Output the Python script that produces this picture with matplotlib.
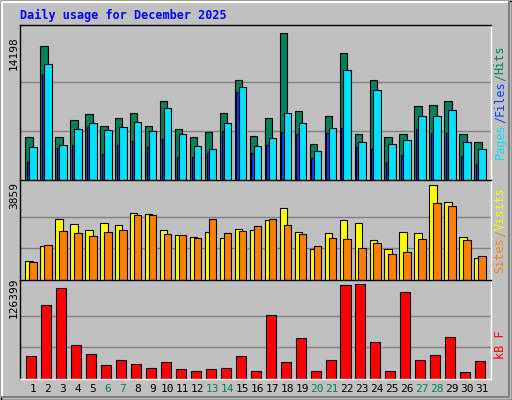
import matplotlib
matplotlib.use("Agg")
import matplotlib.pyplot as plt
import numpy as np

days = list(range(1, 32))
weekend = [6, 7, 13, 14, 20, 21, 27, 28]
hits = [4176,12945,4176,5814,6392,5236,6006,6488,5236,7645,4946,4176,4657,6488,9668,4272,6006,14198,6681,3501,6199,12270,4465,9668,4176,4465,7163,7259,7645,4465,3694]
pages = [3212,11210,3405,4946,5525,4850,5139,5621,4754,6970,4465,3308,3019,5525,8994,3308,4079,6488,5525,2827,5043,10632,3694,8705,3501,3887,6199,6199,6777,3694,3019]
files = [1767,10182,3051,3405,5139,2537,3405,3790,3212,3983,2248,2248,2634,4754,8512,2634,3405,4657,4465,2152,4561,5043,3212,3019,1767,2441,4946,4561,4561,2345,1574]
visits = [766,1393,2480,2271,2020,2312,2229,2730,2688,2020,1811,1727,1936,1686,2062,2020,2438,2939,1936,1268,1894,2438,2312,1602,1268,1936,1894,3859,3148,1727,892]
sites = [724,1435,1978,1894,1769,1936,2020,2647,2619,1853,1811,1686,2480,1894,1978,2187,2480,2229,1853,1393,1686,1644,1309,1518,1059,1142,1644,3106,2981,1602,975]
kb_px = [65,214,262,97,73,40,55,43,31,49,28,22,28,31,67,22,184,49,118,22,55,271,274,106,22,250,55,70,121,19,52]
kbytes = [round(v * 126399 / 274) for v in kb_px]

W, H = 512, 400
fig = plt.figure(figsize=(W/100, H/100), dpi=100)
fig.patch.set_facecolor("#C0C0C0")
mono = "DejaVu Sans Mono"

def ax_at(x0, y0, x1, y1):
    return fig.add_axes([x0/W, 1 - y1/H, (x1-x0)/W, (y1-y0)/H])

x = np.array(days, dtype=float)
XL = (0.13, 31.61)

def style(ax, ymax, frac_top):
    ax.set_facecolor("#C0C0C0")
    ax.set_xlim(*XL)
    ax.set_ylim(0, ymax * frac_top)
    ax.set_xticks([]); ax.set_yticks([])
    for y in (ymax/3, 2*ymax/3):
        ax.axhline(y, color="#808080", lw=1, zorder=0)
    for s in ax.spines.values():
        s.set_color("black"); s.set_linewidth(1)
    ax.spines["bottom"].set_color("white")
    ax.spines["right"].set_color("white")

def bar(ax, vals, l, r, c, z):
    ax.bar(x + (l + r)/2, vals, width=r - l, color=c, edgecolor="black", linewidth=0.8, zorder=z)

ax1 = ax_at(20, 25, 491, 180)
style(ax1, 14198, 155/147.4)
bar(ax1, hits, -0.51, -0.02, "#00805C", 2)
bar(ax1, files, -0.40, -0.25, "#0040FF", 3)
bar(ax1, pages, -0.25, 0.25, "#00E0FF", 4)

ax2 = ax_at(20, 180, 491, 280)
style(ax2, 3859, 97/92.3)
bar(ax2, visits, -0.51, -0.02, "#FFFF00", 2)
bar(ax2, sites, -0.25, 0.25, "#FF8000", 3)

ax3 = ax_at(20, 280, 491, 379)
style(ax3, 126399, 95/91.3)
bar(ax3, kbytes, -0.45, 0.22, "#FF0000", 2)

fig.text(20/W, 1-15/H, "Daily usage for December 2025", color="#0000FF", family=mono,
         fontweight="bold", fontsize=8.5, va="center", ha="left")
for yc, lab in ((53, "14198"), (195, "3859"), (298, "126399")):
    fig.text(14/W, 1-yc/H, lab, rotation=90, family=mono, fontsize=8, va="center", ha="center")

for d in days:
    xp = 20 + (d - XL[0]) / (XL[1]-XL[0]) * 471
    fig.text(xp/W, 1-389/H, str(d), family=mono, fontsize=8, ha="center", va="center",
             color="#00805C" if d in weekend else "black")

def vlabel(yc, parts, fs=8):
    n = sum(len(p) for p, _ in parts)
    ch = 0.602 * fs * 100 / 72
    y = yc + n*ch/2
    for p, c in parts:
        L = len(p)*ch
        fig.text(500/W, 1-(y - L/2)/H, p, rotation=90, family=mono, fontsize=fs,
                 color=c, ha="center", va="center")
        y -= L

vlabel(102, [("Pages", "#00E0FF"), ("/", "#0040FF"), ("Files", "#0040FF"), ("/", "#00805C"), ("Hits", "#00805C")], fs=8.5)
vlabel(230, [("Sites", "#FF8000"), ("/", "#FF8000"), ("Visits", "#FFFF00")], fs=8.5)
vlabel(345, [("kB F", "#FF0000")], fs=8.5)

from matplotlib.patches import Rectangle
fig.add_artist(Rectangle((0.5/W, 0.5/H), (W-1)/W, (H-1)/H, transform=fig.transFigure,
                         fill=False, edgecolor="black", lw=1))
fig.add_artist(plt.Line2D([2/W, 2/W, (W-3)/W], [3/H, (H-2)/H, (H-2)/H], transform=fig.transFigure, color="white", lw=1.5))
fig.add_artist(plt.Line2D([2/W, (W-3)/W, (W-3)/W], [3/H, 3/H, (H-2)/H], transform=fig.transFigure, color="#808080", lw=1.5))

fig.savefig("out.png", dpi=100, facecolor=fig.get_facecolor())
